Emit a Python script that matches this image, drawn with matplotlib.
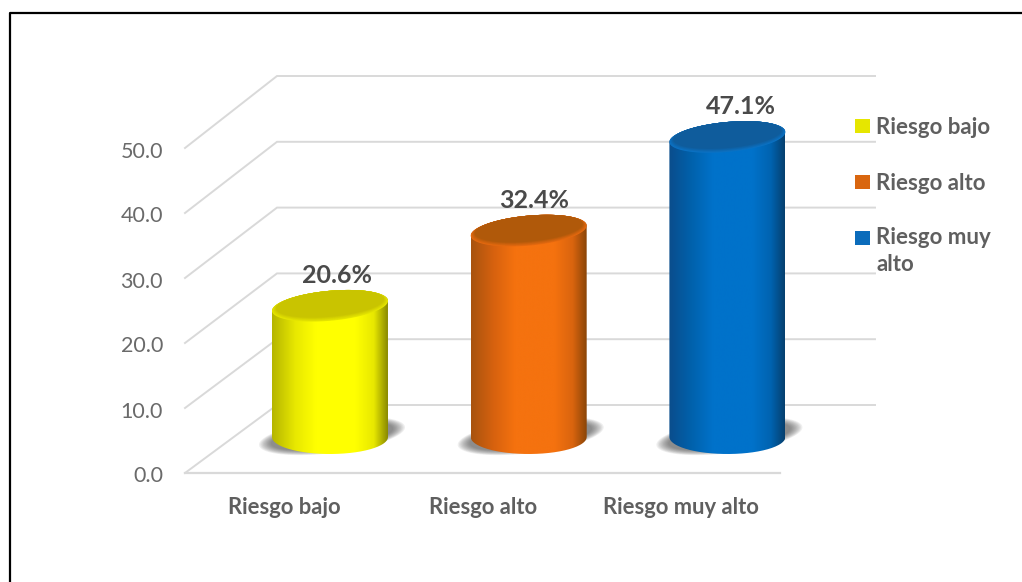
import numpy as np
import matplotlib
matplotlib.use("Agg")
import matplotlib.pyplot as plt
from matplotlib.colors import LinearSegmentedColormap, to_rgb
from matplotlib.path import Path
from matplotlib.patches import PathPatch, Rectangle

categories = ["Riesgo bajo", "Riesgo alto", "Riesgo muy alto"]
values = [20.6, 32.4, 47.1]
labels = ["20.6%", "32.4%", "47.1%"]
ticks = [0, 10, 20, 30, 40, 50]
legend_labels = ["Riesgo bajo", "Riesgo alto", "Riesgo muy\nalto"]
body_colors = [
    ["#b5b500", "#e8e800", "#ffff00", "#ffff00", "#e8e800", "#8a8a00"],
    ["#a8530f", "#d8620e", "#f5720f", "#f5720f", "#d9640e", "#8a4508"],
    ["#0a4d8c", "#0062ad", "#0072ca", "#0072ca", "#0063b0", "#06406f"],
]
top_colors = ["#c9c400", "#b0590a", "#0f5c9c"]
rim_colors = ["#e6e600", "#e5690f", "#0b72c4"]
swatch_colors = ["#e6e600", "#d9660f", "#0b6cbb"]

W, H = 1022, 582
plt.rcParams["font.family"] = ["Lato", "DejaVu Sans"]
fig = plt.figure(figsize=(W / 100, H / 100), dpi=100)
ax = fig.add_axes([0, 0, 1, 1])

PX_X = 198.7
PX_Y = 6.37
X0, Y0 = 330.0, 437.0
ax.axis("off")

def dx(px):
    return px / PX_X

def dy(px):
    return px / PX_Y

GRID = "#d9d9d9"
GRID_STEP = 6.58
FRONT_STEP = 6.5
xf0, xf1, xb0, xb1 = dx(185 - X0), dx(780 - X0), dx(277 - X0), dx(875 - X0)
yf = dy(Y0 - 473)
yb = dy(Y0 - 405)
for t in ticks:
    yback = yb + dy(t * GRID_STEP)
    yfront = yf + dy(t * FRONT_STEP)
    ax.plot([xf0, xb0, xb1], [yfront, yback, yback], color=GRID, lw=1.4, zorder=1,
            solid_joinstyle="miter")
    ax.text(dx(163 - X0), yfront + dy(-3.5), f"{t:.1f}", ha="right", va="center", fontsize=15.5,
            color="#6a6a6a", zorder=5)
ax.plot([xf0, xf1], [yf, yf], color=GRID, lw=1.6, zorder=1)

HALF = 58.0
B_TOP = 15.0
B_BOT = 17.0
SHEAR = 5.0 / 58.0
LABEL_SHIFT = [7, 5, 14]
tt = np.linspace(0, 2 * np.pi, 181)

def ell(cx, cy, a, b, sh):
    px = a * np.cos(tt)
    py = b * np.sin(tt) + sh * px
    return cx + dx(px), cy + dy(py)

for i, (v, c) in enumerate(zip(values, body_colors)):
    for k in range(10):
        grow = 1 - k / 10
        sx, sy = ell(i + dx(2), dy(1), 60 + 13 * grow, 12 + 5 * grow, 0.12)
        ax.fill(sx, sy, color="#3a3a3a", alpha=0.08, lw=0, zorder=2)
    cmap = LinearSegmentedColormap.from_list("c", list(zip([0, 0.2, 0.38, 0.72, 0.88, 1.0], c)))
    bars = ax.bar(i, v, width=dx(2 * HALF), bottom=0, color=c[2], zorder=3, linewidth=0)
    bars[0].set_visible(False)
    low = tt[tt >= np.pi]
    arc_x = i + dx(HALF * np.cos(low))
    arc_y = dy(B_BOT * np.sin(low))
    up = np.linspace(0, np.pi, 91)
    top_px = HALF * np.cos(up)
    top_x = i + dx(top_px)
    top_y = v + dy(B_TOP * np.sin(up) + SHEAR * top_px)
    verts = np.column_stack([np.r_[arc_x, top_x], np.r_[arc_y, top_y]])
    clip = PathPatch(Path(np.vstack([verts, verts[0]])), facecolor="none", edgecolor="none",
                     transform=ax.transData)
    ax.add_patch(clip)
    g = np.linspace(0, 1, 256).reshape(1, -1)
    im = ax.imshow(g, extent=[i - dx(HALF), i + dx(HALF), -dy(B_BOT + 2), v + dy(B_TOP + 8)],
                   cmap=cmap, aspect="auto", zorder=3, interpolation="bilinear")
    im.set_clip_path(clip)
    rim = np.array(to_rgb(rim_colors[i]))
    lid = np.array(to_rgb(top_colors[i]))
    steps = 6
    for s in range(steps + 1):
        f = s / steps
        col = rim * (1 - f) + lid * f
        tx, ty = ell(i, v + dy(2.0 * f), HALF - 4 * f, B_TOP - 2.0 * f, SHEAR)
        ax.fill(tx, ty, color=col, zorder=4 + s * 0.01, lw=0)
    ax.text(i + dx(LABEL_SHIFT[i]), v + dy(30), labels[i], ha="center", va="center", fontsize=18,
            fontweight="bold", color="#4a4a4a", zorder=6)
    ax.text(i + dx(-46), dy(Y0 - 507), categories[i], ha="center", va="center",
            fontsize=15.8, fontweight="bold", color="#5f5f5f", zorder=6)

ax.set_xlim(-X0 / PX_X, (W - X0) / PX_X)
ax.set_ylim(-(H - Y0) / PX_Y, Y0 / PX_Y)

ly = [126, 182, 238]
for yy, lab, col in zip(ly, legend_labels, swatch_colors):
    ax.add_patch(Rectangle((dx(855 - X0), dy(Y0 - yy - 7)), dx(15), dy(14), facecolor=col,
                           edgecolor="none", zorder=6))
    multi = "\n" in lab
    ax.text(dx(876 - X0), dy(Y0 - yy - 1 + (12 if multi else 0)), lab, ha="left",
            va="top" if multi else "center", fontsize=16, fontweight="bold",
            color="#5f5f5f", zorder=7, linespacing=1.35)

ax.plot([dx(10 - X0), dx(10 - X0), dx(W - X0)], [dy(Y0 - H), dy(Y0 - 13), dy(Y0 - 13)],
        color="black", lw=1.6, zorder=8, clip_on=False)
fig.savefig("out.png", dpi=100, facecolor="white")
